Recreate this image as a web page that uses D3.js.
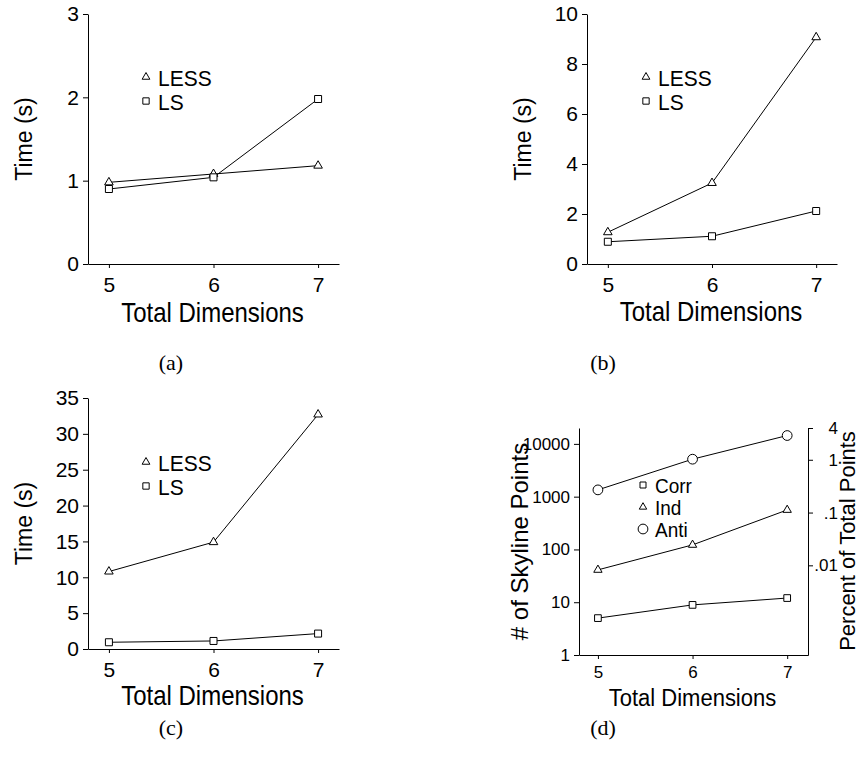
<!DOCTYPE html>
<html>
<head>
<meta charset="utf-8">
<script src="https://cdn.jsdelivr.net/npm/d3@7"></script>
<style>
    body { margin: 0; background: #ffffff; }
    svg text { font-family: "Liberation Sans", Arial, Helvetica, sans-serif; fill: #000; }
    svg text.caption { font-family: "Liberation Serif", "Times New Roman", serif; }
    .domain, .tick line { stroke: #000; stroke-width: 1; }
</style>
</head>
<body>
<div id="chart"></div>
<script>
// x categories shared by all four panels
const dims = [5, 6, 7];

// (a) time in seconds
const lessA = [0.98, 1.08, 1.18];
const lsA = [0.90, 1.04, 1.98];
const ticksA = [0, 1, 2, 3];

// (b) time in seconds
const lessB = [1.27, 3.24, 9.07];
const lsB = [0.89, 1.11, 2.12];
const ticksB = [0, 2, 4, 6, 8, 10];

// (c) time in seconds
const lessC = [10.8, 14.9, 32.7];
const lsC = [0.94, 1.12, 2.15];
const ticksC = [0, 5, 10, 15, 20, 25, 30, 35];

// (d) number of skyline points (log scale)
const corrD = [5, 8.9, 12];
const indD = [41, 122, 560];
const antiD = [1345, 5130, 14400];
const ticksD = [1, 10, 100, 1000, 10000];
const totalPoints = 500000;
const pctTicks = [4, 1, 0.1, 0.01];
const pctLabels = ["4", "1", ".1", ".01"];

const timeNames = ["LESS", "LS"];
const skyNames = ["Corr", "Ind", "Anti"];

const svg = d3.select("#chart")
    .append("svg")
    .attr("width", 860)
    .attr("height", 757);

// open marker at (cx, cy)
function marker(g, type, size, cx, cy) {
    g.append("path")
        .attr("d", d3.symbol().type(type).size(size)())
        .attr("transform", `translate(${cx},${cy})`)
        .attr("fill", "#fff")
        .attr("stroke", "#000")
        .attr("stroke-width", 1);
}

// text that is a bit taller than wide, like the original figure
function tallText(g, x, y, txt, size, sy, anchor) {
    g.append("g")
        .attr("transform", `translate(${x},${y}) scale(1,${sy})`)
        .append("text")
        .attr("text-anchor", anchor || "middle")
        .style("font-size", size + "px")
        .text(txt);
}

function drawPanel(p) {
    const g = svg.append("g");

    const x = d3.scaleLinear().domain(p.xDomain).range([p.left, p.right]);

    // x axis
    g.append("g")
        .attr("transform", `translate(0,${p.bottom})`)
        .call(d3.axisBottom(x).tickValues(dims).tickFormat(d3.format("d"))
            .tickSize(p.xTick).tickPadding(p.xPad).tickSizeOuter(0))
        .selectAll("text")
        .style("font-size", p.tickFont + "px");

    // y axis
    g.append("g")
        .attr("transform", `translate(${p.left},0)`)
        .call(d3.axisLeft(p.y).tickValues(p.yTicks).tickFormat(d3.format("d"))
            .tickSize(5).tickPadding(4).tickSizeOuter(0))
        .selectAll("text")
        .style("font-size", p.tickFont + "px");

    g.selectAll(".domain").attr("stroke", "#000");

    // series lines + markers
    p.series.forEach(s => {
        const line = d3.line()
            .x((d, i) => x(dims[i]))
            .y(d => p.y(d));
        g.append("path")
            .datum(s.values)
            .attr("d", line)
            .attr("fill", "none")
            .attr("stroke", "#000")
            .attr("stroke-width", 1);
        s.values.forEach((v, i) => marker(g, s.type, s.size, x(dims[i]), p.y(v)));
    });

    // legend
    p.legend.forEach((it, i) => {
        marker(g, it.type, it.size, p.legX, p.legY[i] - 1);
        tallText(g, p.legX + 12, p.legY[i] + p.legBase, it.name, p.legFont, p.legSy, "start");
    });

    // y label
    g.append("text")
        .attr("transform", `translate(${p.yLabelX},${(p.top + p.bottom) / 2}) rotate(-90)`)
        .attr("text-anchor", "middle")
        .style("font-size", p.yLabelFont + "px")
        .text(p.yLabel);

    // x label
    tallText(g, (p.left + p.right) / 2 - 1, p.xLabelY, "Total Dimensions", p.xLabelFont, p.xLabelSy);

    // caption
    g.append("text")
        .attr("class", "caption")
        .attr("x", p.capX)
        .attr("y", p.capY)
        .attr("text-anchor", "middle")
        .style("font-size", "22px")
        .text(p.caption);

    return { g: g, x: x };
}

function timeSeries(less, ls) {
    return [
        { values: less, type: d3.symbolTriangle, size: 32 },
        { values: ls, type: d3.symbolSquare, size: 49 }
    ];
}
function timeLegend() {
    return [
        { name: timeNames[0], type: d3.symbolTriangle, size: 26 },
        { name: timeNames[1], type: d3.symbolSquare, size: 40 }
    ];
}

// (a)
drawPanel({
    left: 88, right: 339, top: 14, bottom: 264, xDomain: [4.8, 7.2],
    y: d3.scaleLinear().domain([0, 3]).range([264, 14]), yTicks: ticksA,
    xTick: 4, xPad: 9, tickFont: 21,
    series: timeSeries(lessA, lsA), legend: timeLegend(),
    legX: 146, legY: [78, 102], legFont: 21, legSy: 1.06, legBase: 8,
    yLabel: "Time (s)", yLabelX: 32, yLabelFont: 23,
    xLabelY: 322, xLabelFont: 24, xLabelSy: 1.15,
    caption: "(a)", capX: 171, capY: 370
});

// (b)
drawPanel({
    left: 587, right: 837, top: 14, bottom: 264, xDomain: [4.8, 7.2],
    y: d3.scaleLinear().domain([0, 10]).range([264, 14]), yTicks: ticksB,
    xTick: 4, xPad: 9, tickFont: 21,
    series: timeSeries(lessB, lsB), legend: timeLegend(),
    legX: 646, legY: [78, 102], legFont: 21, legSy: 1.06, legBase: 8,
    yLabel: "Time (s)", yLabelX: 531, yLabelFont: 23,
    xLabelY: 321, xLabelFont: 24, xLabelSy: 1.15,
    caption: "(b)", capX: 603, capY: 370
});

// (c)
drawPanel({
    left: 88, right: 339, top: 398, bottom: 649, xDomain: [4.8, 7.2],
    y: d3.scaleLinear().domain([0, 35]).range([649, 398]), yTicks: ticksC,
    xTick: 4, xPad: 9, tickFont: 21,
    series: timeSeries(lessC, lsC), legend: timeLegend(),
    legX: 146, legY: [463, 487], legFont: 21, legSy: 1.06, legBase: 8,
    yLabel: "Time (s)", yLabelX: 32, yLabelFont: 23,
    xLabelY: 705, xLabelFont: 24, xLabelSy: 1.15,
    caption: "(c)", capX: 171, capY: 735
});

// (d) log scale with a second axis in percent of all points
const yD = d3.scaleLog().domain([1, 20000]).range([655, 428]);
const panelD = drawPanel({
    left: 579, right: 808, top: 428, bottom: 655, xDomain: [4.8, 7.22],
    y: yD, yTicks: ticksD,
    xTick: 4, xPad: 7, tickFont: 17,
    series: [
        { values: corrD, type: d3.symbolSquare, size: 45 },
        { values: indD, type: d3.symbolTriangle, size: 30 },
        { values: antiD, type: d3.symbolCircle, size: 75 }
    ],
    legend: [
        { name: skyNames[0], type: d3.symbolSquare, size: 36 },
        { name: skyNames[1], type: d3.symbolTriangle, size: 24 },
        { name: skyNames[2], type: d3.symbolCircle, size: 75 }
    ],
    legX: 643, legY: [486, 508, 530], legFont: 19, legSy: 1.05, legBase: 7,
    yLabel: "# of Skyline Points", yLabelX: 528, yLabelFont: 24,
    xLabelY: 706, xLabelFont: 22, xLabelSy: 1.05,
    caption: "(d)", capX: 603, capY: 735
});

const yPct = d3.scaleLog()
    .domain([100 / totalPoints, 100 * 20000 / totalPoints])
    .range([655, 428]);

const rightAxis = panelD.g.append("g")
    .attr("transform", "translate(808,0)")
    .call(d3.axisRight(yPct).tickValues(pctTicks)
        .tickFormat((d, i) => pctLabels[i]).tickSize(5).tickPadding(4).tickSizeOuter(0));
rightAxis.selectAll("text")
    .attr("text-anchor", "end")
    .attr("x", 30)
    .style("font-size", "17px");

panelD.g.append("text")
    .attr("transform", "translate(855,541) rotate(-90)")
    .attr("text-anchor", "middle")
    .style("font-size", "22px")
    .text("Percent of Total Points");
</script>
</body>
</html>
